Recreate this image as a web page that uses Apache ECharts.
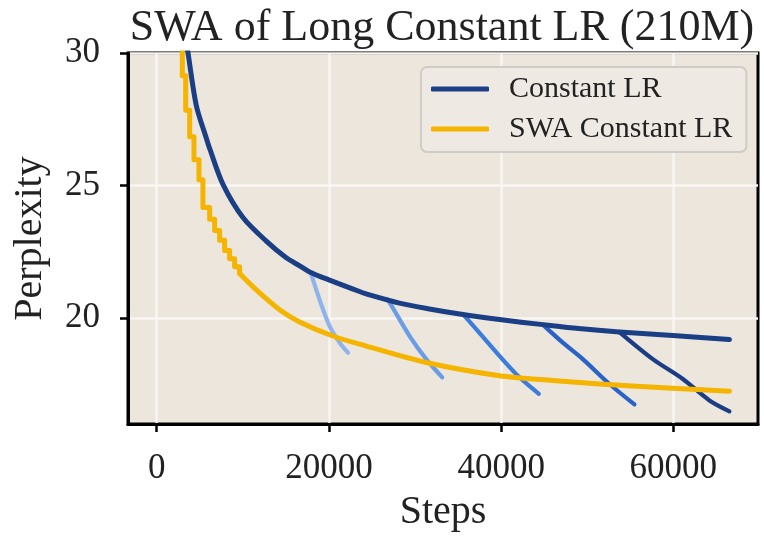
<!DOCTYPE html>
<html>
<head>
<meta charset="utf-8">
<script src="https://cdn.jsdelivr.net/npm/echarts@6/dist/echarts.min.js"></script>
<style>
  html, body { margin: 0; padding: 0; background: #ffffff; }
  #chart { width: 764px; height: 537px; }
</style>
</head>
<body>
<div id="chart"></div>
<script>
// Axis ticks
const xTicks = [0, 20000, 40000, 60000];
const yTicks = [20, 25, 30];

// Constant LR run: [step, perplexity]
const constantLR = [
  [3400, 30.5], [3640, 30.0], [4600, 28.02], [5770, 26.78], [6150, 26.4],
  [7700, 25.04], [10020, 23.79], [12730, 22.90], [15050, 22.27], [16600, 21.97],
  [17760, 21.74], [20080, 21.43], [23560, 21.0], [24720, 20.87], [28200, 20.56],
  [31500, 20.35], [35560, 20.13], [39810, 19.94], [44840, 19.75], [49000, 19.6],
  [53740, 19.47], [59930, 19.34], [66510, 19.19]
];

// SWA of the constant LR run: early averages change in discrete steps
const swaEarly = [
  [2400, 30.5], [2980, 29.14], [3370, 27.84], [3830, 26.84], [4330, 25.97],
  [4910, 25.22], [5370, 24.17], [6150, 23.73], [6730, 23.30], [7310, 22.93],
  [7890, 22.55], [8470, 22.24], [9050, 21.93], [9630, 21.68]
];
const swaLate = [
  [9630, 21.68], [11570, 21.06], [14280, 20.31], [16600, 19.85], [20460, 19.32],
  [24340, 18.94], [31300, 18.32], [39810, 17.82], [46000, 17.64], [51420, 17.51],
  [59930, 17.35], [66510, 17.24]
];

// LR decay branches taken from the constant LR run
const decay1 = [[17900, 21.7], [18920, 20.69], [20080, 19.69], [21240, 19.07], [22210, 18.69]];
const decay2 = [[26700, 20.72], [27050, 20.58], [29370, 19.32], [31300, 18.45], [33160, 17.76]];
const decay3 = [[35560, 20.15], [37480, 19.44], [39810, 18.57], [42130, 17.76], [44380, 17.14]];
const decay4 = [[44840, 19.75], [47160, 19.07], [49480, 18.45], [52580, 17.51], [55480, 16.74]];
const decay5 = [[53740, 19.47], [57610, 18.45], [61100, 17.70], [64190, 16.89], [66510, 16.48]];

const decays = [decay1, decay2, decay3, decay4, decay5];
const decayColors = ['#8fb4ec', '#6a9de6', '#3c7ddb', '#2a62c8', '#1b3d85'];

const NAVY = '#1a3f85';
const GOLD = '#f4b400';
const SERIF = "'Liberation Serif', 'DejaVu Serif', serif";

const chart = echarts.init(document.getElementById('chart'), null, { renderer: 'canvas' });

const lineSeries = (name, data, color, width, z, extra) => Object.assign({
  name: name,
  type: 'line',
  data: data,
  showSymbol: false,
  symbol: 'none',
  z: z,
  silent: true,
  smooth: 0.3,
  lineStyle: { color: color, width: width, cap: 'round', join: 'round' },
  itemStyle: { color: color },
  clip: true
}, extra || {});

const series = [];
decays.forEach((d, i) => {
  series.push(lineSeries('decay' + (i + 1), d, decayColors[i], 4.2, 2));
});
series.push(lineSeries('SWA Constant LR', swaEarly, GOLD, 5, 3, { step: 'end', smooth: false }));
series.push(lineSeries('SWA Constant LR', swaLate, GOLD, 5, 3));
series.push(lineSeries('Constant LR', constantLR, NAVY, 5, 4));

const plainNumber = v => String(Math.round(v));

chart.setOption({
  animation: false,
  backgroundColor: '#ffffff',
  title: {
    text: 'SWA of Long Constant LR (210M)',
    left: 442,
    top: 6,
    textAlign: 'center',
    padding: 0,
    textStyle: { fontFamily: SERIF, fontSize: 44, fontWeight: 'normal', color: '#222222' }
  },
  grid: {
    left: 128, right: 6, top: 53, bottom: 109,
    show: true,
    backgroundColor: '#ece6dd',
    borderColor: '#000000',
    borderWidth: 3
  },
  legend: {
    data: ['Constant LR', 'SWA Constant LR'],
    orient: 'vertical',
    left: 421,
    top: 67,
    padding: [7, 14, 8, 10],
    itemGap: 10,
    itemWidth: 58,
    itemHeight: 5,
    icon: 'roundRect',
    backgroundColor: '#eee9e2',
    borderColor: '#cfccc7',
    borderWidth: 2,
    borderRadius: 6,
    selectedMode: false,
    textStyle: { fontFamily: SERIF, fontSize: 30, color: '#222222', padding: [0, 0, 0, 15] }
  },
  xAxis: {
    type: 'value',
    min: -3330,
    max: 69830,
    name: 'Steps',
    nameLocation: 'middle',
    nameGap: 68,
    nameTextStyle: { fontFamily: SERIF, fontSize: 40, color: '#222222' },
    axisLine: { show: true, onZero: false, lineStyle: { color: '#000000', width: 3 } },
    axisTick: { show: true, inside: false, length: 8, customValues: xTicks, lineStyle: { color: '#000000', width: 2.5 } },
    axisLabel: { customValues: xTicks, formatter: plainNumber, margin: 27, fontFamily: SERIF, fontSize: 35, color: '#222222' },
    splitLine: { show: true, lineStyle: { color: '#f8f6f2', width: 2.5 } }
  },
  yAxis: {
    type: 'value',
    min: 16,
    max: 30,
    name: 'Perplexity',
    nameLocation: 'middle',
    nameRotate: 90,
    nameGap: 78,
    nameTextStyle: { fontFamily: SERIF, fontSize: 40, color: '#222222' },
    axisLine: { show: true, onZero: false, lineStyle: { color: '#000000', width: 3 } },
    axisTick: { show: true, inside: false, length: 8, customValues: yTicks, lineStyle: { color: '#000000', width: 2.5 } },
    axisLabel: { customValues: yTicks, formatter: plainNumber, margin: 28, fontFamily: SERIF, fontSize: 35, color: '#222222' },
    splitLine: { show: true, lineStyle: { color: '#f8f6f2', width: 2.5 } }
  },
  series: series
});
</script>
</body>
</html>
